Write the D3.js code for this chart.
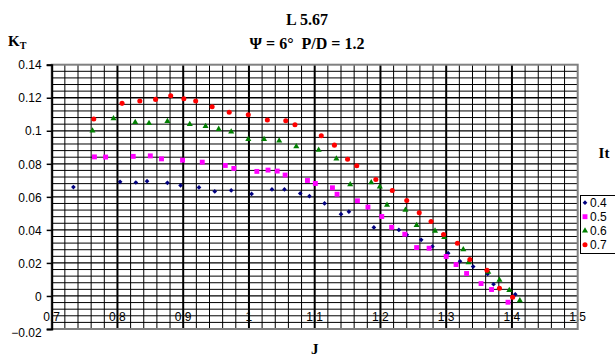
<!DOCTYPE html>
<html>
<head>
<meta charset="utf-8">
<script src="https://cdn.jsdelivr.net/npm/d3@7/dist/d3.min.js"></script>
<style>
  body { margin: 0; background: #fff; }
  svg { display: block; }
  .tick-lbl { font-family: "Liberation Sans", Arial, sans-serif; font-size: 12px; fill: #000; }
  .ttl { font-family: "Liberation Serif", "Times New Roman", "DejaVu Serif", serif; font-weight: bold; fill: #000; }
</style>
</head>
<body>
<div id="chart"></div>
<script>
// series values (J, KT) for each It
var j04  = [0.733, 0.804, 0.828, 0.845, 0.876, 0.896, 0.924, 0.948, 0.973, 1.004, 1.035, 1.054, 1.078, 1.092,
            1.115, 1.140, 1.152, 1.190, 1.228, 1.240, 1.262, 1.279, 1.303, 1.321, 1.341, 1.363, 1.372, 1.405];
var kt04 = [0.0659, 0.0691, 0.0687, 0.0695, 0.0685, 0.0669, 0.0657, 0.0633, 0.0639, 0.0618, 0.0645, 0.0645, 0.0621, 0.0604,
            0.0560, 0.0495, 0.0510, 0.0415, 0.0400, 0.0370, 0.0340, 0.0300, 0.0259, 0.0210, 0.0178, 0.0133, 0.0071, 0.0010];

var j05  = [0.765, 0.782, 0.824, 0.850, 0.867, 0.899, 0.929, 0.964, 0.977, 1.012, 1.029, 1.043, 1.055, 1.089, 1.101,
            1.127, 1.134, 1.165, 1.181, 1.202, 1.217, 1.237, 1.255, 1.274, 1.300, 1.315, 1.331, 1.353, 1.369, 1.394];
var kt05 = [0.0842, 0.0841, 0.0845, 0.0848, 0.0830, 0.0822, 0.0810, 0.0790, 0.0772, 0.0754, 0.0762, 0.0756, 0.0732, 0.0699, 0.0681,
            0.0655, 0.0616, 0.0576, 0.0538, 0.0481, 0.0416, 0.0374, 0.0293, 0.0289, 0.0239, 0.0190, 0.0136, 0.0075, 0.0039, -0.0038];

var j06  = [0.762, 0.794, 0.827, 0.848, 0.876, 0.910, 0.934, 0.954, 0.973, 0.999, 1.023, 1.046, 1.072, 1.106, 1.133,
            1.154, 1.186, 1.199, 1.210, 1.238, 1.255, 1.283, 1.297, 1.326, 1.334, 1.364, 1.381, 1.396, 1.412];
var kt06 = [0.1000, 0.1075, 0.1051, 0.1045, 0.1057, 0.1039, 0.1028, 0.1010, 0.0994, 0.0948, 0.0948, 0.0939, 0.0905, 0.0883, 0.0830,
            0.0675, 0.0687, 0.0661, 0.0550, 0.0521, 0.0428, 0.0394, 0.0356, 0.0281, 0.0202, 0.0145, 0.0097, 0.0035, -0.0028];

var j07  = [0.764, 0.807, 0.834, 0.858, 0.881, 0.901, 0.919, 0.944, 0.970, 0.999, 1.028, 1.056, 1.070, 1.110,
            1.130, 1.150, 1.164, 1.193, 1.218, 1.240, 1.259, 1.277, 1.296, 1.317, 1.336, 1.362, 1.381, 1.401];
var kt07 = [0.1071, 0.1166, 0.1180, 0.1190, 0.1212, 0.1194, 0.1180, 0.1145, 0.1112, 0.1097, 0.1065, 0.1061, 0.1036, 0.0970,
            0.0913, 0.0828, 0.0788, 0.0705, 0.0639, 0.0578, 0.0503, 0.0451, 0.0372, 0.0319, 0.0221, 0.0156, 0.0047, -0.0008];

var seriesNames = ["0.4", "0.5", "0.6", "0.7"];
var xTicks = [0.7, 0.8, 0.9, 1.0, 1.1, 1.2, 1.3, 1.4, 1.5];
var yTicks = [-0.02, 0, 0.02, 0.04, 0.06, 0.08, 0.1, 0.12, 0.14];

var svgWidth = 615;
var svgHeight = 356;

var plot = { left: 51.7, right: 577.7, top: 64.7, bottom: 329 };

var svg = d3.select("#chart")
  .append("svg")
  .attr("width", svgWidth)
  .attr("height", svgHeight);

var xScale = d3.scaleLinear().domain([0.7, 1.5]).range([plot.left, plot.right]);
var yScale = d3.scaleLinear().domain([-0.02, 0.14]).range([plot.bottom, plot.top]);

var colors = ["#000080", "#ff00ff", "#008000", "#ff0000"];
var shapes = [d3.symbolSquare, d3.symbolSquare, d3.symbolTriangle, d3.symbolCircle];
var sizes = [11, 24, 16, 20];
var rotate = [45, 0, 0, 0];   // square turned into a diamond

// x tick labels sit inside the plot, the grid is drawn over them
svg.append("g").selectAll("text")
  .data(xTicks)
  .enter()
  .append("text")
  .attr("class", "tick-lbl")
  .attr("x", d => xScale(d))
  .attr("y", 321)
  .attr("text-anchor", "middle")
  .text(d => d3.format("")(+d.toFixed(1)));

// grid
var grid = svg.append("g");
var minorX = d3.range(36, 76).map(i => i * 0.02).filter(v => Math.round(v * 50) % 5 !== 0);
var majorX = [0.8, 0.9, 1.0, 1.1, 1.2, 1.3, 1.4];
var minorY = d3.range(-4, 35).map(i => i * 0.004).filter(v => Math.round(v * 250) % 5 !== 0);
var majorY = [0, 0.02, 0.04, 0.06, 0.08, 0.1, 0.12];

grid.selectAll(".hmin").data(minorY).enter().append("line")
  .attr("x1", plot.left).attr("x2", plot.right)
  .attr("y1", d => yScale(d)).attr("y2", d => yScale(d))
  .attr("stroke", "#000").attr("stroke-width", 1);
grid.selectAll(".hmaj").data(majorY).enter().append("line")
  .attr("x1", plot.left).attr("x2", plot.right)
  .attr("y1", d => yScale(d)).attr("y2", d => yScale(d))
  .attr("stroke", "#000").attr("stroke-width", 1.3);
grid.selectAll(".vmin").data(minorX).enter().append("line")
  .attr("y1", plot.top).attr("y2", plot.bottom)
  .attr("x1", d => xScale(d)).attr("x2", d => xScale(d))
  .attr("stroke", "#000").attr("stroke-width", 1);
grid.selectAll(".vmaj").data(majorX).enter().append("line")
  .attr("y1", plot.top).attr("y2", plot.bottom)
  .attr("x1", d => xScale(d)).attr("x2", d => xScale(d))
  .attr("stroke", "#000").attr("stroke-width", 2);

// plot border
svg.append("rect")
  .attr("x", plot.left).attr("y", plot.top)
  .attr("width", plot.right - plot.left).attr("height", plot.bottom - plot.top)
  .attr("fill", "none").attr("stroke", "#808080").attr("stroke-width", 2);

// y axis
var leftAxis = d3.axisLeft(yScale).tickValues(yTicks).tickSize(5).tickPadding(5)
  .tickFormat(d => d === 0 ? "0" : d3.format("")(+d.toFixed(2)));
var yAxisG = svg.append("g")
  .attr("transform", `translate(${plot.left}, 0)`)
  .call(leftAxis);
yAxisG.select(".domain").attr("stroke", "#000").attr("stroke-width", 2);
yAxisG.selectAll(".tick line").attr("stroke", "#000").attr("stroke-width", 1.5);
yAxisG.selectAll(".tick text")
  .attr("class", "tick-lbl")
  .attr("font-family", null).attr("font-size", null)
  .attr("dy", d => d === -0.02 ? "0.6em" : "0.35em");

// points
var seriesJ = [j04, j05, j06, j07];
var seriesKT = [kt04, kt05, kt06, kt07];
seriesJ.forEach(function(js, s) {
  var pts = js.map((j, i) => ({ j: j, kt: seriesKT[s][i] }));
  svg.append("g").selectAll("path")
    .data(pts)
    .enter()
    .append("path")
    .attr("d", d3.symbol().type(shapes[s]).size(sizes[s]))
    .attr("transform", d => `translate(${xScale(d.j)}, ${yScale(d.kt)}) rotate(${rotate[s]})`)
    .attr("fill", colors[s]);
});

// titles
svg.append("text").attr("class", "ttl").attr("x", 307).attr("y", 25)
  .attr("text-anchor", "middle").attr("font-size", 16).text("L 5.67");
svg.append("text").attr("class", "ttl").attr("x", 307).attr("y", 49)
  .attr("text-anchor", "middle").attr("font-size", 16)
  .text("\u03A8 = 6\u00B0 \u00A0P/D = 1.2");

var kt = svg.append("text").attr("class", "ttl").attr("x", 8).attr("y", 46).attr("font-size", 15);
kt.append("tspan").text("K");
kt.append("tspan").attr("font-size", 10).attr("dy", 3).text("T");

svg.append("text").attr("class", "ttl").attr("x", plot.left + (plot.right - plot.left) / 2).attr("y", 354)
  .attr("text-anchor", "middle").attr("font-size", 15).text("J");

// legend
var legend = svg.append("g");
legend.append("text").attr("class", "ttl").attr("x", 604).attr("y", 158)
  .attr("text-anchor", "middle").attr("font-size", 15).text("It");
legend.append("rect")
  .attr("x", 580.5).attr("y", 195.5).attr("width", 60).attr("height", 58)
  .attr("fill", "#fff").attr("stroke", "#000").attr("stroke-width", 1);
seriesNames.forEach(function(name, s) {
  var ly = 202.7 + s * 14;
  legend.append("path")
    .attr("d", d3.symbol().type(shapes[s]).size(sizes[s]))
    .attr("transform", `translate(585, ${ly}) rotate(${rotate[s]})`)
    .attr("fill", colors[s]);
  legend.append("text").attr("class", "tick-lbl")
    .attr("x", 590).attr("y", ly).attr("dy", "0.35em").text(name);
});
</script>
</body>
</html>
